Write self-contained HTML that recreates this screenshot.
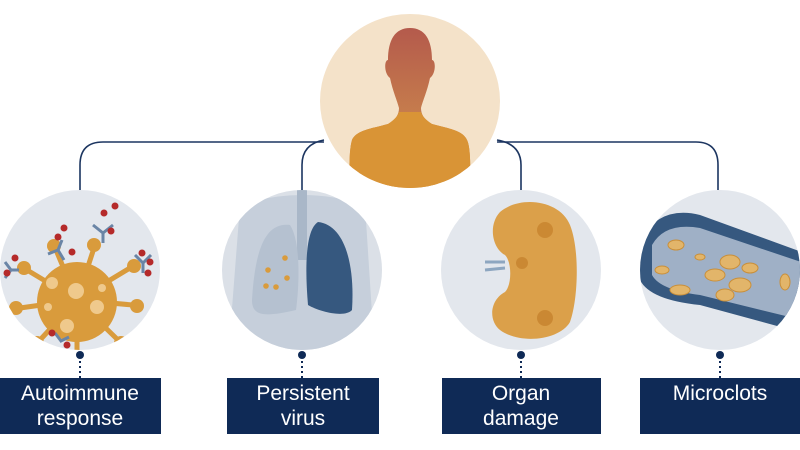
<!DOCTYPE html>
<html><head><meta charset="utf-8"><style>
html,body{margin:0;padding:0;background:#fff;}
svg{display:block}
text{font-family:"Liberation Sans",Arial,sans-serif;fill:#fff;font-size:21px;text-anchor:middle}
</style></head><body>
<svg width="800" height="450" viewBox="0 0 800 450">
<defs>
<linearGradient id="head" x1="0" y1="0" x2="0" y2="1">
<stop offset="0" stop-color="#b45a4c"/><stop offset="0.7" stop-color="#cd8a4d"/><stop offset="1" stop-color="#d99436"/>
</linearGradient>
<clipPath id="c1"><circle cx="80" cy="270" r="80"/></clipPath>
<clipPath id="c2"><circle cx="302" cy="270" r="80"/></clipPath>
<clipPath id="c3"><circle cx="521" cy="270" r="80"/></clipPath>
<clipPath id="c4"><circle cx="720" cy="270" r="80"/></clipPath>
<clipPath id="c0"><ellipse cx="410" cy="101" rx="90" ry="87"/></clipPath>
</defs>
<g fill="none" stroke="#1c3560" stroke-width="1.6">
<path d="M80 190 V165 Q80 142 103 142 H324"/>
<path d="M302 190 V165 Q302 144 324 140"/>
<path d="M497 140 Q521 144 521 165 V190"/>
<path d="M497 142 H696 Q718 142 718 165 V190"/>
</g>
<ellipse cx="410" cy="101" rx="90" ry="87" fill="#f4e2c9"/>
<g clip-path="url(#c0)">
<path d="M410 28 C395 28 388 40 388 60 C384 60 384 74 390 78 C393 92 397 100 399 108 C399 114 396 120 388 124 C374 128 356 130 352 140 C349 150 349 170 350 200 H470 C471 160 470 146 467 140 C463 130 446 128 432 124 C424 120 421 114 421 108 C423 100 427 92 430 78 C436 74 436 60 432 60 C432 40 425 28 410 28Z" fill="url(#head)"/>
<path d="M399 112 C398 116 394 120 388 124 C374 128 356 130 352 140 C349 150 349 170 350 200 H470 C471 160 470 146 467 140 C463 130 446 128 432 124 C426 120 422 116 421 112Z" fill="#d99436"/>
</g>
<circle cx="80" cy="270" r="80" fill="#e3e7ed"/>
<g clip-path="url(#c1)">
<g stroke="#d99b3c" stroke-width="5" stroke-linecap="round">
<line x1="77" y1="300" x2="94" y2="248"/><line x1="77" y1="300" x2="56" y2="250"/><line x1="77" y1="300" x2="27" y2="270"/>
<line x1="77" y1="300" x2="130" y2="268"/><line x1="77" y1="300" x2="133" y2="305"/><line x1="77" y1="300" x2="20" y2="308"/>
<line x1="77" y1="300" x2="40" y2="340"/><line x1="77" y1="300" x2="77" y2="350"/><line x1="77" y1="300" x2="118" y2="340"/>
</g>
<g fill="#d99b3c"><circle cx="94" cy="245" r="7"/><circle cx="54" cy="246" r="7"/><circle cx="24" cy="268" r="7"/><circle cx="134" cy="266" r="7"/><circle cx="137" cy="306" r="7"/><circle cx="16" cy="308" r="7"/><circle cx="37" cy="343" r="7"/><circle cx="121" cy="343" r="7"/></g>
<circle cx="77" cy="302" r="40" fill="#d99b3c"/>
<g fill="#efc98c"><circle cx="52" cy="283" r="6"/><circle cx="76" cy="291" r="8"/><circle cx="97" cy="307" r="7"/><circle cx="67" cy="326" r="7"/><circle cx="48" cy="307" r="4"/><circle cx="102" cy="288" r="4"/></g>
<g stroke="#6a85a6" stroke-width="3" fill="none">
<path d="M93 225 l10 8 l10 -8 M103 233 v10"/><path d="M62 240 l-4 10 l-10 4 M58 250 l6 10"/><path d="M135 255 l8 8 l8 -8 M143 263 v10"/><path d="M5 262 l6 8 l-6 8 M11 270 h8"/><path d="M55 333 l6 8 l8 -4"/>
</g>
<g fill="#b52a2a"><circle cx="115" cy="206" r="3.5"/><circle cx="104" cy="213" r="3.5"/><circle cx="111" cy="231" r="3.5"/><circle cx="64" cy="228" r="3.5"/><circle cx="58" cy="237" r="3.5"/><circle cx="72" cy="252" r="3.5"/><circle cx="142" cy="253" r="3.5"/><circle cx="150" cy="262" r="3.5"/><circle cx="148" cy="273" r="3.5"/><circle cx="15" cy="258" r="3.5"/><circle cx="7" cy="273" r="3.5"/><circle cx="52" cy="333" r="3.5"/><circle cx="67" cy="345" r="3.5"/></g>
</g>
<circle cx="302" cy="270" r="80" fill="#dbe0e7"/>
<g clip-path="url(#c2)">
<path d="M240 205 Q302 185 365 205 L375 360 H228Z" fill="#c6cfdb"/>
<rect x="297" y="190" width="10" height="70" fill="#a9b7c8"/>
<path d="M290 225 C265 222 255 250 252 300 C252 315 262 318 296 310 C300 280 300 240 290 225Z" fill="#b5c1d0"/>
<path d="M318 222 C345 225 355 265 352 310 C345 318 320 312 308 305 C305 270 305 230 318 222Z" fill="#36587f"/>
<g fill="#d99b3c"><circle cx="285" cy="258" r="2.8"/><circle cx="268" cy="270" r="2.8"/><circle cx="287" cy="278" r="2.8"/><circle cx="266" cy="286" r="2.8"/><circle cx="276" cy="287" r="2.8"/></g>
</g>
<circle cx="521" cy="270" r="80" fill="#e3e7ed"/>
<path d="M500 212 C520 195 560 200 570 225 C580 250 578 300 570 322 C560 340 520 345 500 330 C488 320 490 300 505 292 C512 285 512 262 505 255 C492 248 488 225 500 212Z" fill="#dba04a"/>
<g fill="#c47f2a" opacity="0.7"><circle cx="545" cy="230" r="8"/><circle cx="522" cy="263" r="6"/><circle cx="545" cy="318" r="8"/></g>
<path d="M485 262 L505 262 M485 270 L505 268" stroke="#8da6c0" stroke-width="3"/>
<circle cx="720" cy="270" r="80" fill="#e3e7ed"/>
<g clip-path="url(#c4)">
<path d="M640 240 Q660 205 700 215 L810 255 L810 335 L700 305 Q650 300 640 280Z" fill="#36587f"/>
<path d="M652 245 Q665 222 700 228 L810 265 L810 322 L700 295 Q660 290 652 275Z" fill="#9fb0c6"/>
<g fill="#e2b56a" stroke="#c98f3a" stroke-width="1"><ellipse cx="676" cy="245" rx="8" ry="5"/><ellipse cx="662" cy="270" rx="7" ry="4"/><ellipse cx="680" cy="290" rx="10" ry="5"/><ellipse cx="715" cy="275" rx="10" ry="6"/><ellipse cx="730" cy="262" rx="10" ry="7"/><ellipse cx="740" cy="285" rx="11" ry="7"/><ellipse cx="725" cy="295" rx="9" ry="6"/><ellipse cx="750" cy="268" rx="8" ry="5"/><ellipse cx="700" cy="257" rx="5" ry="3"/><ellipse cx="785" cy="282" rx="5" ry="8"/></g>
</g>
<g fill="#0f2a56">
<circle cx="80" cy="355" r="4"/><circle cx="302" cy="355" r="4"/><circle cx="521" cy="355" r="4"/><circle cx="720" cy="355" r="4"/>
</g>
<g stroke="#0f2a56" stroke-width="2" stroke-dasharray="2 3">
<line x1="80" y1="361" x2="80" y2="378"/><line x1="302" y1="361" x2="302" y2="378"/><line x1="521" y1="361" x2="521" y2="378"/><line x1="720" y1="361" x2="720" y2="378"/>
</g>
<g fill="#0f2a56">
<rect x="0" y="378" width="161" height="56"/><rect x="227" y="378" width="152" height="56"/><rect x="442" y="378" width="159" height="56"/><rect x="640" y="378" width="160" height="56"/>
</g>
<text x="80" y="400">Autoimmune</text><text x="80" y="425">response</text>
<text x="303" y="400">Persistent</text><text x="303" y="425">virus</text>
<text x="521" y="400">Organ</text><text x="521" y="425">damage</text>
<text x="720" y="400">Microclots</text>
</svg>
</body></html>
